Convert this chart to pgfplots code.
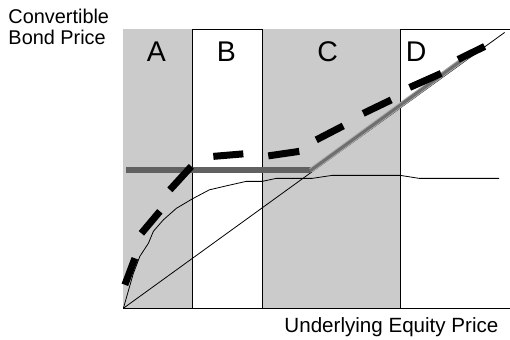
\documentclass[border=0pt]{standalone}
\usepackage{fontspec}
\setmainfont{Liberation Sans}
\usepackage{pgfplots}
\pgfplotsset{compat=1.18}

\definecolor{shade}{HTML}{CBCBCB}
\definecolor{floorbar}{HTML}{616161}
\definecolor{parity}{HTML}{6E6E6E}
\definecolor{parityedge}{HTML}{ABABAB}

\begin{document}
\begin{tikzpicture}
\begin{axis}[
    scale only axis,
    width=386.5pt, height=279pt,
    xmin=0, xmax=386.5,
    ymin=0, ymax=279,
    axis x line=box, axis y line=left,
    axis line style={-, line width=0.8pt, black},
    ticks=none,
    clip=false,
    unbounded coords=jump,
]
% shaded zones A and C
\addplot[fill=shade, draw=none] coordinates {(0,0) (69.5,0) (69.5,279) (0,279)} -- cycle;
\addplot[fill=shade, draw=none] coordinates {(139.3,0) (277.5,0) (277.5,279) (139.3,279)} -- cycle;
% zone borders
\addplot[black, line width=0.8pt] coordinates {(69.5,0) (69.5,279)};
\addplot[black, line width=0.8pt] coordinates {(139.3,0) (139.3,279)};
\addplot[black, line width=0.8pt] coordinates {(277.5,0) (277.5,279)};

% conversion value (thin diagonal)
\addplot[black, line width=0.8pt] coordinates {(0,0) (381.5,276)};

% thin curve
\addplot[black, line width=0.8pt] coordinates {
    (0,0) (10,35) (16.5,52) (25,65) (30,77) (40,88.5) (53,100) (69,109.5)
    (86,118.5) (103,122.5) (123,127) (139,127) (153,130) (189,130)
    (209,133) (277,133) (296,130) (376,130)
};

% bond floor (thick gray) and parity line
\addplot[floorbar, line width=6pt] coordinates {(3,138) (187.5,138)};
\addplot[parityedge, line width=5pt] coordinates {(187.5,138) (349.5,256)};
\addplot[parity, line width=3pt] coordinates {(187.5,138) (349.5,256)};

% convertible price (thick dashes)
\addplot[black, line width=7pt, line cap=butt] coordinates {
    (1.5,23.5) (11.5,50)
    (nan,nan)
    (18,75) (36.5,97)
    (nan,nan)
    (46.5,118.5) (68,142)
    (nan,nan)
    (90,152) (120,154.5)
    (nan,nan)
    (145,152.5) (176,157)
    (nan,nan)
    (193,168.5) (220,182.5)
    (nan,nan)
    (240,195) (268,208.5)
    (nan,nan)
    (286.5,221) (318,235)
    (nan,nan)
    (335,249) (361.5,262)
};

% zone letters
\node[font=\fontsize{28.5}{30}\selectfont] at (axis cs:33,257) {A};
\node[font=\fontsize{28.5}{30}\selectfont] at (axis cs:103,257) {B};
\node[font=\fontsize{28.5}{30}\selectfont] at (axis cs:204.5,257) {C};
\node[font=\fontsize{28.5}{30}\selectfont] at (axis cs:293,257) {D};

% axis titles
\node[font=\fontsize{19.9}{21}\selectfont, anchor=base west, inner sep=0pt] at (axis cs:-115.2,285.2) {Convertible};
\node[font=\fontsize{19.9}{21}\selectfont, anchor=base west, inner sep=0pt] at (axis cs:-115.2,263.5) {Bond Price};
\node[font=\fontsize{20.6}{22}\selectfont, anchor=base east, inner sep=0pt] at (axis cs:375.5,-24.5) {Underlying Equity Price};

% page frame
\path (axis cs:-123.5,-31.5) rectangle (axis cs:386.5,308.5);
\end{axis}
\end{tikzpicture}
\end{document}
